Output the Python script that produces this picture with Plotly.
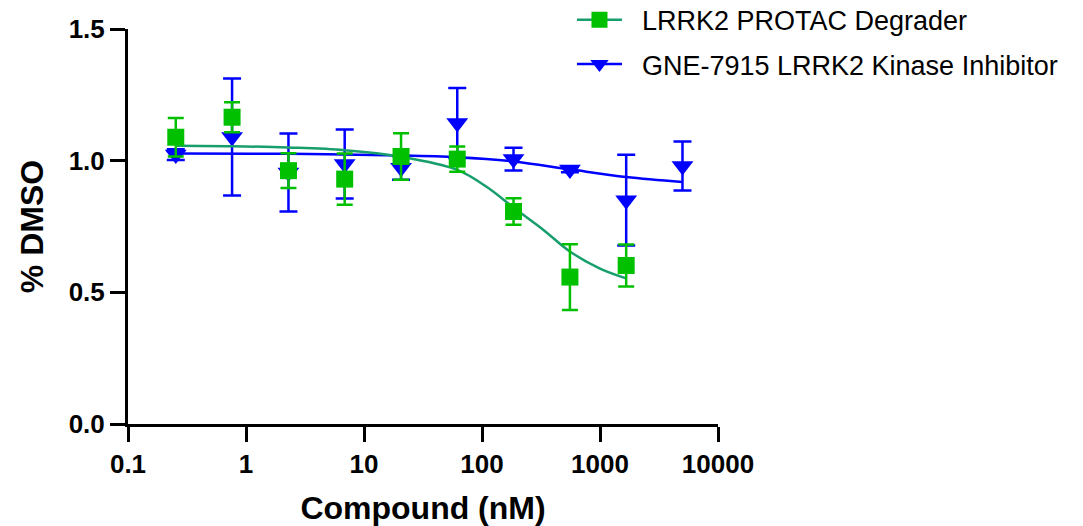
import plotly.graph_objects as go

# Concentrations (nM), 3-fold dilution series
conc = [0.254, 0.762, 2.29, 6.86, 20.6, 61.7, 185, 556, 1667, 5000]

# LRRK2 PROTAC Degrader (mean, SD) - 9 points
protac_x = conc[:9]
protac_y = [1.089, 1.165, 0.962, 0.930, 1.016, 1.006, 0.807, 0.558, 0.602]
protac_err = [0.073, 0.057, 0.066, 0.097, 0.088, 0.048, 0.050, 0.125, 0.080]

# GNE-7915 LRRK2 Kinase Inhibitor (mean, SD) - 10 points
gne_x = conc
gne_y = [1.023, 1.090, 0.955, 0.987, 0.973, 1.143, 1.006, 0.966, 0.850, 0.980]
gne_err = [0.020, 0.222, 0.148, 0.131, 0.045, 0.133, 0.043, 0.010, 0.172, 0.093]

# Fitted curves
protac_fit_x = [0.254, 0.762, 2.29, 6.86, 20.6, 61.7, 110, 185, 330, 556, 1000, 1667]
protac_fit_y = [1.057, 1.055, 1.050, 1.040, 1.015, 0.965, 0.900, 0.822, 0.738, 0.655, 0.590, 0.553]

gne_fit_x = [0.254, 2.29, 20.6, 61.7, 185, 556, 1667, 5000]
gne_fit_y = [1.027, 1.026, 1.020, 1.013, 0.997, 0.967, 0.938, 0.919]

x_ticks = [0.1, 1, 10, 100, 1000, 10000]
x_ticktext = ["0.1", "1", "10", "100", "1000", "10000"]
y_ticks = [0, 0.5, 1.0, 1.5]
y_ticktext = ["0.0", "0.5", "1.0", "1.5"]

names = ["LRRK2 PROTAC Degrader", "GNE-7915 LRRK2 Kinase Inhibitor"]

GREEN = "#00c000"
GREEN_LINE = "#179e6c"
BLUE = "#0000ff"
FONT = "Liberation Sans, Arial, sans-serif"
PAD = "\u00a0\u00a0"

fig = go.Figure()

# Blue (drawn first, underneath)
fig.add_trace(go.Scatter(x=gne_fit_x, y=gne_fit_y, mode="lines",
                         line=dict(color=BLUE, width=2.5, shape="spline"),
                         showlegend=False, hoverinfo="skip"))
fig.add_trace(go.Scatter(x=gne_x, y=gne_y, mode="markers",
                         marker=dict(symbol="triangle-down", size=19, color=BLUE),
                         error_y=dict(type="data", array=gne_err, color=BLUE,
                                      thickness=2.5, width=9),
                         showlegend=False, cliponaxis=False))
# Green
fig.add_trace(go.Scatter(x=protac_fit_x, y=protac_fit_y, mode="lines",
                         line=dict(color=GREEN_LINE, width=2.5, shape="spline"),
                         showlegend=False, hoverinfo="skip"))
fig.add_trace(go.Scatter(x=protac_x, y=protac_y, mode="markers",
                         marker=dict(symbol="square", size=17, color=GREEN),
                         error_y=dict(type="data", array=protac_err, color=GREEN,
                                      thickness=2.5, width=8),
                         showlegend=False, cliponaxis=False))

# Legend entries
fig.add_trace(go.Scatter(x=[None], y=[None], mode="lines+markers", name=PAD + names[0],
                         legendgroup="a",
                         line=dict(color=GREEN_LINE, width=2.5),
                         marker=dict(symbol="square", size=16, color=GREEN)))
fig.add_trace(go.Scatter(x=[None], y=[None], mode="lines+markers", name=PAD + names[1],
                         legendgroup="b",
                         line=dict(color=BLUE, width=2.5),
                         marker=dict(symbol="triangle-down", size=19, color=BLUE)))

axis_common = dict(showgrid=False, zeroline=False, showline=True, linecolor="black",
                   linewidth=3, ticks="outside", ticklen=15, tickwidth=3,
                   tickcolor="black",
                   tickfont=dict(family=FONT, size=26, color="black", weight="bold"))

fig.update_layout(
    width=1083, height=526,
    margin=dict(l=128, r=365, t=29, b=102, autoexpand=False),
    paper_bgcolor="white", plot_bgcolor="white",
    xaxis=dict(type="log", range=[-1, 4], tickvals=x_ticks, ticktext=x_ticktext,
               title=dict(text="Compound (nM)", standoff=20,
                          font=dict(family=FONT, size=32, color="black", weight="bold")),
               **axis_common),
    yaxis=dict(range=[0, 1.5], tickvals=y_ticks, ticktext=y_ticktext,
               title=dict(text="% DMSO", standoff=16,
                          font=dict(family=FONT, size=32, color="black", weight="bold")),
               **axis_common),
    legend=dict(xref="paper", yref="paper", x=0.7525, y=1.084,
                xanchor="left", yanchor="top",
                font=dict(family=FONT, size=27, color="black"),
                tracegroupgap=6, itemwidth=45, bgcolor="rgba(0,0,0,0)"),
)

fig.write_html("out.html", config={"displayModeBar": False},
               post_script="document.body.style.margin='0';document.body.style.overflow='hidden';")
